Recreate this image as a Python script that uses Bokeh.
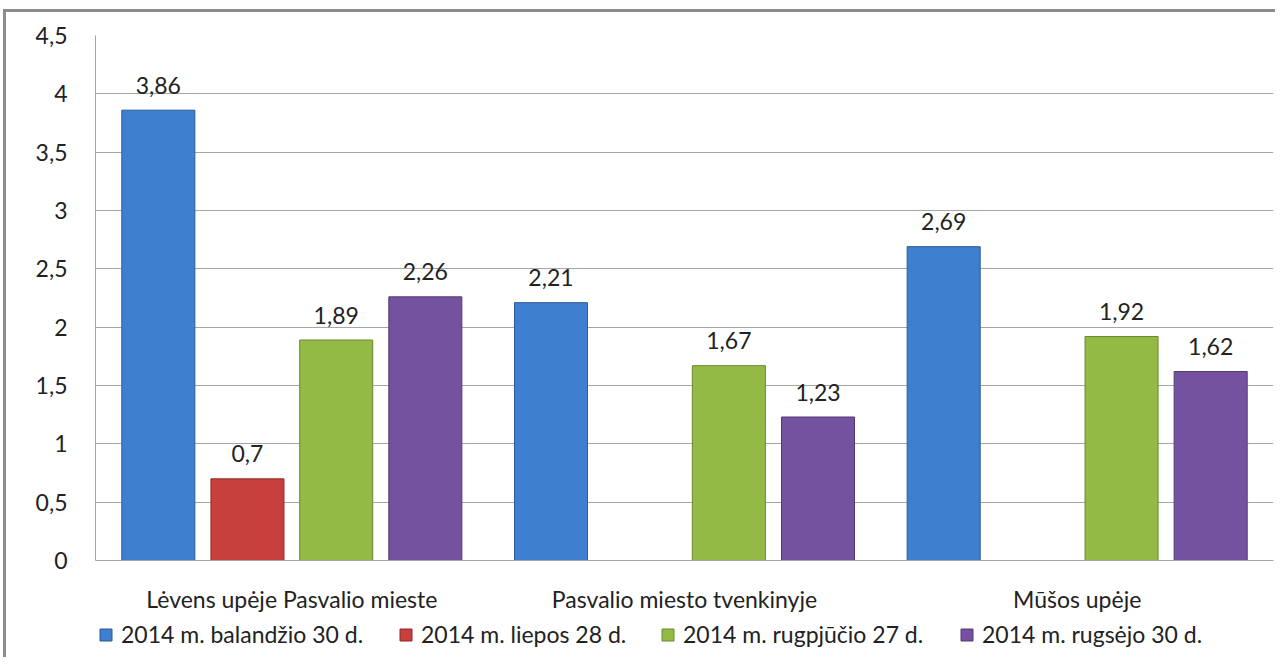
import math
from bokeh.plotting import figure
from bokeh.layouts import column
from bokeh.models import (ColumnDataSource, FactorRange, Legend, LegendItem,
                          CustomJSTickFormatter, FixedTicker)
from bokeh.transform import dodge
from bokeh.core.properties import value
from bokeh.embed import file_html
from bokeh.resources import INLINE

categories = ["Lėvens upėje Pasvalio mieste", "Pasvalio miesto tvenkinyje", "Mūšos upėje"]
series_names = ["2014 m. balandžio 30 d.", "2014 m. liepos 28 d.",
                "2014 m. rugpjūčio 27 d.", "2014 m. rugsėjo 30 d."]
balandzio = [3.86, 2.21, 2.69]
liepos = [0.7, float("nan"), float("nan")]
rugpjucio = [1.89, 1.67, 1.92]
rugsejo = [2.26, 1.23, 1.62]
y_ticks = [0, 0.5, 1, 1.5, 2, 2.5, 3, 3.5, 4, 4.5]

series = [balandzio, liepos, rugpjucio, rugsejo]
colors = ["#3F7FCF", "#C8403E", "#93BA44", "#7452A0"]
edges = ["#2A5A98", "#8E2A28", "#6A8A2E", "#523A74"]
offsets = [-0.34, -0.113, 0.113, 0.34]
legend_x = [98, 398, 660, 959]
FONT = "Lato"
FS = "23px"
TXT = "#222222"
FRAME_LEFT = 95

p = figure(x_range=FactorRange(*categories, range_padding=0),
           y_range=(0, 4.5), width=1272, height=603,
           output_backend="svg", toolbar_location=None,
           min_border_left=89, min_border_top=23, min_border_right=5,
           min_border_bottom=55)
p.styles = {"border-top": "3px solid #8c8c8c", "border-left": "3px solid #8c8c8c",
            "margin-top": "9px", "margin-left": "3px"}
p.outline_line_color = None
p.background_fill_color = "white"
p.border_fill_color = "white"

for name, vals, col, edge, off in zip(series_names, series, colors, edges, offsets):
    src = ColumnDataSource(dict(cat=categories, v=vals))
    p.vbar(x=dodge("cat", off, range=p.x_range), top="v", bottom=0, width=0.186,
           source=src, fill_color=col, line_color=edge, line_width=1)
    lab_cat = [c for c, v in zip(categories, vals) if not math.isnan(v)]
    lab_v = [v for v in vals if not math.isnan(v)]
    lab_t = [("%g" % v).replace(".", ",") for v in lab_v]
    lsrc = ColumnDataSource(dict(cat=lab_cat, v=lab_v, t=lab_t))
    p.text(x=dodge("cat", off, range=p.x_range), y="v", text="t", source=lsrc,
           text_align="center", text_baseline="middle", y_offset=-25,
           text_font=value(FONT), text_font_size=FS, text_color=TXT)

p.ygrid.grid_line_color = "#a6a6a6"
p.ygrid.grid_line_width = 1
p.xgrid.grid_line_color = None

p.yaxis.ticker = FixedTicker(ticks=y_ticks)
p.yaxis.formatter = CustomJSTickFormatter(code="return tick.toString().replace('.', ',');")
p.yaxis.axis_line_color = "#a6a6a6"
p.yaxis.major_tick_line_color = None
p.yaxis.minor_tick_line_color = None
p.yaxis.major_label_text_font = FONT
p.yaxis.major_label_text_font_size = FS
p.yaxis.major_label_text_color = TXT
p.yaxis.major_label_standoff = 22

p.xaxis.axis_line_color = "#a6a6a6"
p.xaxis.major_tick_line_color = None
p.xaxis.minor_tick_line_color = None
p.xaxis.major_label_text_font = FONT
p.xaxis.major_label_text_font_size = FS
p.xaxis.major_label_text_color = TXT
p.xaxis.major_label_standoff = 18

# legend strip
lg = figure(width=1278, height=45, x_range=(0, 1), y_range=(0, 1),
            output_backend="svg", toolbar_location=None,
            min_border_left=0, min_border_right=0, min_border_top=0, min_border_bottom=0)
lg.axis.visible = False
lg.grid.grid_line_color = None
lg.outline_line_color = None
lg.styles = {"border-left": "3px solid #8c8c8c", "margin-left": "3px"}
for name, col, edge, lx in zip(series_names, colors, edges, legend_x):
    r = lg.vbar(x=[float("nan")], top=[float("nan")], width=0.1,
                fill_color=col, line_color=edge)
    leg = Legend(items=[LegendItem(label=name, renderers=[r])],
                 location=(lx - FRAME_LEFT, 9),
                 margin=0, padding=0, glyph_width=15, glyph_height=15,
                 label_standoff=8, label_text_font=FONT, label_text_font_size=FS,
                 label_text_color=TXT, border_line_color=None, background_fill_alpha=0)
    lg.add_layout(leg, "center")

layout = column(p, lg, spacing=0)
open("out.html", "w").write(file_html(layout, INLINE))
